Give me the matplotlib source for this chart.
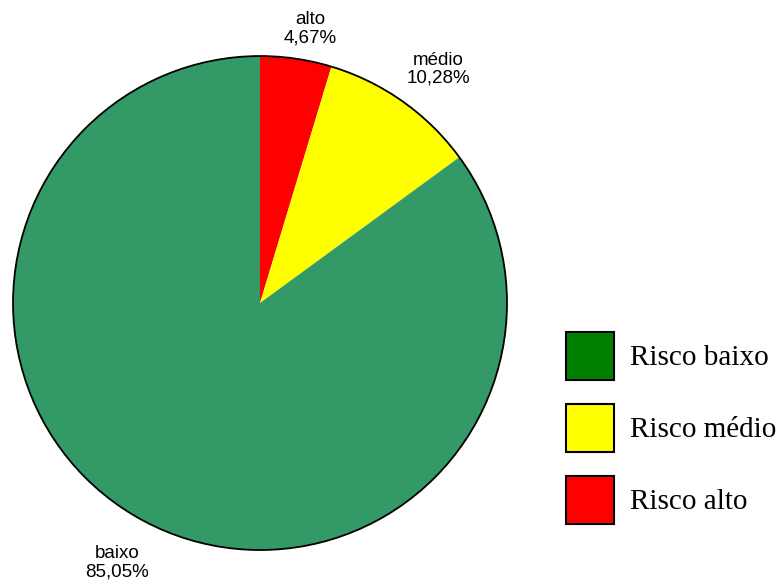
import numpy as np
import matplotlib.pyplot as plt
from matplotlib.patches import Patch, Circle

categorias = ['alto', 'médio', 'baixo']
valores = [4.67, 10.28, 85.05]
cores_pie = ['#FF0000', '#FFFF00', '#339966']

legenda_nomes = ['Risco baixo', 'Risco médio', 'Risco alto']
legenda_cores = ['#008000', '#FFFF00', '#FF0000']

# distancia de cada rotulo ao centro (em raios)
dist_rotulos = [1.13, 1.19, 1.2]

fig = plt.figure(figsize=(7.78, 5.85), dpi=100)
ax = fig.add_axes([0.0167, 0.0598, 0.635, 0.8444])

rotulos = [f"{c}\n{v:.2f}%".replace('.', ',') for c, v in zip(categorias, valores)]
wedges, texts = ax.pie(valores, colors=cores_pie, startangle=90, counterclock=False,
                       labels=rotulos,
                       wedgeprops=dict(linewidth=0),
                       textprops=dict(family=['Liberation Sans', 'DejaVu Sans'], fontsize=13.5,
                                      linespacing=1.1))
for w, t, d in zip(wedges, texts, dist_rotulos):
    ang = np.deg2rad((w.theta1 + w.theta2) / 2 - 2)
    t.set_position((d * np.cos(ang), d * np.sin(ang)))
    t.set_ha('center')
    t.set_va('center')
ax.add_patch(Circle((0, 0), 1, fill=False, ec='black', lw=1.3, clip_on=False))
ax.set_xlim(-1, 1)
ax.set_ylim(-1, 1)
ax.set_aspect('equal')

handles = [Patch(facecolor=c, edgecolor='black', linewidth=1.5) for c in legenda_cores]
fig.legend(handles, legenda_nomes, loc='center left', bbox_to_anchor=(0.7275, 0.2684),
           frameon=False, prop=dict(family=['Liberation Serif', 'DejaVu Serif'], size=21),
           handlelength=1.64, handleheight=2.15, labelspacing=0.83, handletextpad=0.55,
           borderpad=0, borderaxespad=0)

fig.savefig('out.png', dpi=100)
